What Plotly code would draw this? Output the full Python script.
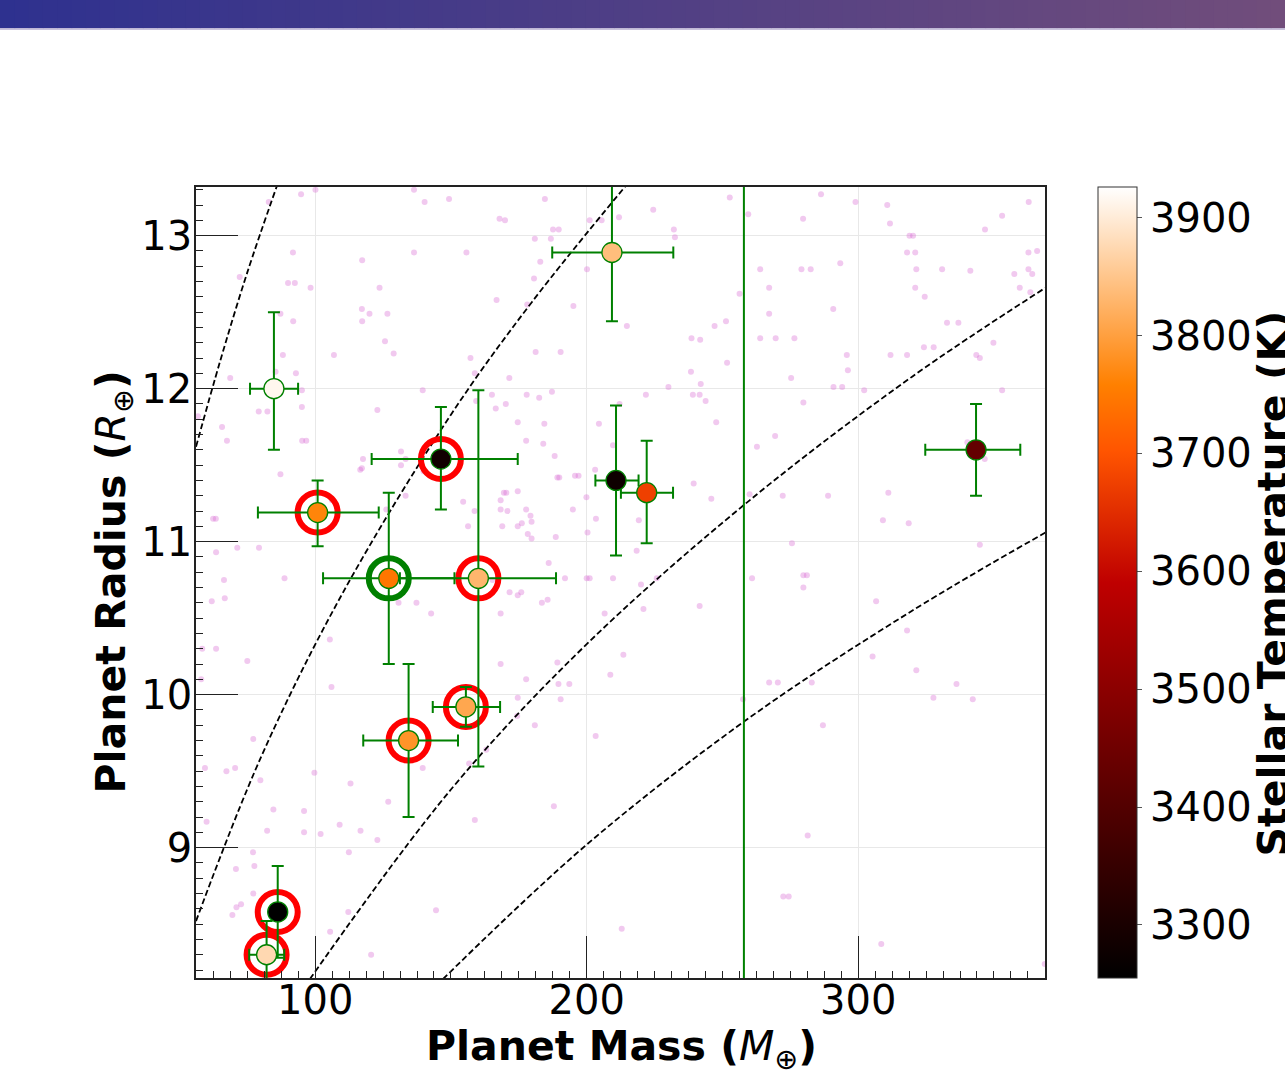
import plotly.graph_objects as go

# ---------------- highlighted planets ----------------
mass = [84.8, 146.3, 100.9, 127.1, 160.1, 134.4, 155.5, 210.8, 222.1, 209.3, 343.4, 86.2, 82.1]
radius = [12.00, 11.54, 11.19, 10.76, 10.76, 9.70, 9.92, 11.40, 11.32, 12.89, 11.60, 8.58, 8.30]
mass_err_lo = [8.8, 25.5, 22.0, 24.2, 28.9, 16.7, 12.2, 7.6, 9.5, 22.0, 18.7, 1.8, 6.4]
mass_err_hi = [8.9, 28.3, 22.5, 24.2, 28.6, 18.2, 12.6, 8.3, 9.7, 22.6, 16.3, 1.8, 6.5]
radius_err_lo = [0.40, 0.33, 0.22, 0.56, 1.23, 0.50, 0.13, 0.49, 0.33, 0.45, 0.30, 0.30, 0.22]
radius_err_hi = [0.50, 0.34, 0.21, 0.56, 1.23, 0.50, 0.13, 0.49, 0.34, 0.45, 0.30, 0.30, 0.22]
stellar_temp = [3915, 3285, 3765, 3745, 3830, 3785, 3810, 3280, 3675, 3840, 3430, 3255, 3875]
ring_color = ["none", "red", "red", "green", "red", "red", "red",
              "none", "none", "none", "none", "red", "red"]

temp_min, temp_max = 3255, 3926
cbar_ticks = [3300, 3400, 3500, 3600, 3700, 3800, 3900]

# ---------------- background population ----------------
bg_mass = [
    100.1, 94.8, 82.9, 136.4, 140.3, 149.3, 91.8, 117.3, 136.4, 155.7, 72.2, 90.0, 92.5, 98.3, 123.7, 117.2, 120.0, 126.6, 87.2, 91.9,
    117.3, 125.7, 128.9, 88.1, 106.9, 157.2, 68.7, 85.4, 92.9, 158.8, 139.6, 95.1, 165.1, 79.2, 82.4, 95.1, 122.9, 56.8, 65.7, 166.8, 166.5,
    67.5, 95.2, 96.7, 117.6, 131.6, 117.2, 116.6, 131.6, 133.3, 87.2, 133.3, 139.9, 154.5, 158.7, 156.3, 62.4, 63.4, 106.2,
    126.2, 79.3, 71.3, 63.5, 66.4, 88.7, 61.9, 66.7, 130.7, 137.3, 142.7, 105.4, 58.4, 63.5, 75.0, 58.0, 106.0, 165.3,
    77.2, 59.4, 67.3, 70.5, 99.7, 79.8, 113.0, 139.6, 163.0, 156.7, 126.9, 84.6, 95.9, 60.0, 109.0, 82.3, 95.9, 102.0,
    116.7, 122.9, 158.8, 77.1, 112.4, 70.8, 77.6, 77.2, 72.7, 71.0, 69.5, 112.2, 144.5, 105.5, 120.6, 91.1, 212.9,
    184.6, 167.9, 169.9, 187.6, 189.7, 180.9, 186.8, 182.9, 201.1, 205.5, 211.9, 224.5, 232.1, 232.5, 252.7, 259.5,
    200.1, 180.6, 178.1, 195.1, 256.3, 214.8, 247.1, 251.3, 238.6, 241.8, 181.2, 190.4, 159.3, 171.5, 238.4, 251.7,
    177.9, 182.5, 187.2, 170.2, 174.6, 184.4, 204.5, 212.1, 221.8, 230.1, 239.1, 241.6, 243.8, 242.0, 247.7,
    286.3, 299.0, 279.7, 310.7, 311.7, 362.8, 353.0, 346.7, 318.9, 320.2, 318.0, 321.0, 362.7, 365.9, 263.9, 279.1,
    282.5, 293.4, 321.4, 330.9, 341.3, 357.5, 362.7, 364.1, 267.2, 321.0, 359.5, 363.4, 324.5, 267.2, 290.8, 332.7,
    336.9, 263.9, 269.6, 276.5, 349.8, 324.2, 327.8, 295.8, 311.9, 318.0, 343.5, 344.8, 296.2, 275.3, 290.9, 294.1,
    302.2, 279.8, 353.0, 340.2, 346.6, 288.9, 311.1, 309.1, 318.6, 344.8, 279.8, 281.1,
    177.7, 184.0, 188.2, 189.2, 189.9, 195.7, 197.0, 169.5, 170.4, 174.6, 168.3, 168.3, 170.8, 177.7, 179.3, 176.1, 174.6, 179.7,
    168.9, 178.3, 179.7, 188.6, 194.9, 199.9, 203.4, 200.3, 209.7, 203.1, 219.2, 218.4, 239.4, 245.9, 262.7, 269.4, 260.0, 272.2,
    275.6, 186.0, 192.0, 200.0, 201.1, 209.7, 220.0, 225.8, 171.6, 174.6, 175.9, 183.5, 185.6, 168.3, 206.6, 220.9, 241.6, 260.9,
    279.8, 213.5, 168.3, 189.2, 208.7, 177.7, 189.6, 193.6, 174.6, 190.4, 174.4, 180.9, 203.3, 257.6, 267.2, 270.4, 187.9, 281.4,
    272.4, 274.4,
    306.6, 318.0, 305.3, 321.4, 282.9, 336.2, 327.7, 342.2, 287.0, 308.5, 368.7,
]
bg_radius = [
    13.30, 13.27, 13.22, 13.30, 13.22, 13.24, 12.89, 12.84, 12.89, 12.89, 12.73, 12.69, 12.69, 12.66, 12.66, 12.52, 12.49, 12.49, 12.49, 12.44,
    12.44, 12.31, 12.23, 12.22, 12.22, 12.20, 12.07, 12.11, 12.10, 12.10, 11.99, 11.99, 11.96, 11.85, 11.85, 11.88, 11.86, 11.82, 11.75, 12.58, 11.87,
    11.66, 11.66, 11.66, 11.54, 11.59, 11.48, 11.47, 11.50, 11.54, 11.44, 11.30, 11.46, 11.26, 11.20, 11.10, 11.15, 11.15, 11.27,
    11.21, 10.96, 10.96, 10.93, 10.75, 10.76, 10.61, 10.63, 10.60, 10.60, 10.53, 10.36, 10.30, 10.30, 10.22, 10.10, 10.05, 10.75,
    9.71, 9.52, 9.50, 9.52, 9.49, 9.44, 9.42, 9.52, 9.64, 9.55, 9.30, 9.25, 9.24, 9.17, 9.15, 9.11, 9.10, 9.09,
    9.11, 9.05, 9.18, 8.97, 8.97, 8.86, 8.88, 8.70, 8.63, 8.61, 8.56, 8.58, 8.59, 8.45, 8.30, 8.48, 8.47,
    13.24, 13.11, 13.10, 13.04, 13.04, 12.98, 12.98, 12.83, 13.10, 13.10, 13.12, 13.17, 13.04, 12.99, 13.25, 13.14,
    12.78, 12.72, 12.55, 12.54, 12.62, 12.41, 12.41, 12.44, 12.33, 12.32, 12.24, 12.24, 11.92, 12.07, 12.11, 12.17,
    11.96, 11.94, 11.98, 11.90, 11.78, 11.77, 11.77, 11.90, 11.96, 12.01, 11.96, 11.96, 11.92, 12.03, 11.78,
    13.27, 13.22, 13.11, 13.20, 13.08, 13.22, 13.13, 13.04, 13.00, 13.00, 12.89, 12.89, 12.89, 12.90, 12.78, 12.78,
    12.78, 12.82, 12.78, 12.78, 12.77, 12.75, 12.78, 12.75, 12.66, 12.66, 12.66, 12.63, 12.60, 12.49, 12.52, 12.43,
    12.43, 12.33, 12.33, 12.33, 12.30, 12.27, 12.27, 12.22, 12.22, 12.22, 12.22, 12.20, 12.12, 12.07, 12.01, 12.01,
    11.99, 11.91, 11.99, 11.65, 11.54, 11.30, 11.32, 11.14, 11.12, 10.98, 10.78, 10.78,
    11.66, 11.64, 11.56, 11.42, 11.42, 11.43, 11.43, 11.32, 11.32, 11.33, 11.27, 11.21, 11.20, 11.21, 11.17, 11.12, 11.10, 11.13,
    11.10, 11.05, 11.02, 11.03, 11.21, 11.29, 11.15, 11.06, 11.63, 11.47, 11.14, 10.94, 11.38, 11.28, 11.62, 11.69, 11.31, 11.30,
    10.99, 10.86, 10.76, 10.76, 10.76, 10.76, 10.72, 10.76, 10.67, 10.65, 10.67, 10.60, 10.62, 10.53, 10.53, 10.56, 10.58, 10.76,
    10.70, 10.26, 10.20, 10.21, 10.13, 10.10, 10.07, 10.07, 9.98, 9.97, 9.86, 9.80, 9.73, 9.97, 10.08, 10.08, 9.27, 9.08,
    8.68, 8.68,
    10.61, 10.42, 10.25, 10.16, 10.08, 10.07, 9.98, 9.97, 9.80, 8.37, 8.24,
]
assert len(bg_mass) == len(bg_radius)

# ---------------- iso-density guide curves ----------------
curve_a_mass = [56.1, 65.0, 75.0, 86.0]
curve_a_radius = [11.62, 12.18, 12.76, 13.33]
curve_b_mass = [56.1, 80.0, 110.0, 150.0, 180.0, 216.0]
curve_b_radius = [8.52, 9.59, 10.66, 11.83, 12.57, 13.36]
curve_c_mass = [98.0, 150.0, 200.0, 260.0, 320.0, 369.0]
curve_c_radius = [8.14, 9.38, 10.33, 11.27, 12.08, 12.66]
curve_d_mass = [147.0, 200.0, 260.0, 320.0, 369.0]
curve_d_radius = [8.14, 9.02, 9.85, 10.55, 11.06]

vline_mass = 257.9

x_range = [56.1, 368.8]
y_range = [8.148, 13.318]
x_ticks = [100, 200, 300]
y_ticks = [9, 10, 11, 12, 13]

# matplotlib gist_heat colormap
gist_heat = [
    [0.0, "rgb(0,0,0)"],
    [0.5, "rgb(191,0,0)"],
    [2 / 3, "rgb(255,85,0)"],
    [0.75, "rgb(255,128,0)"],
    [1.0, "rgb(255,255,255)"],
]

FONT = "DejaVu Sans"
GREEN = "#008000"
W = 849.0      # plot width in px
H = 790.6      # plot height in px
BOTTOM = 978.3  # plot bottom in px from top

fig = go.Figure()

# background population
fig.add_trace(go.Scatter(
    x=bg_mass, y=bg_radius, mode="markers",
    marker=dict(size=6, color="rgba(218,112,214,0.38)", line=dict(width=0)),
    hoverinfo="skip",
))

# dashed iso-density curves
for cx, cy in [(curve_a_mass, curve_a_radius), (curve_b_mass, curve_b_radius),
               (curve_c_mass, curve_c_radius), (curve_d_mass, curve_d_radius)]:
    fig.add_trace(go.Scatter(
        x=cx, y=cy, mode="lines",
        line=dict(color="black", width=1.8, dash="6px,3px", shape="spline", smoothing=1.0),
        hoverinfo="skip",
    ))

# rings
ring_idx = [i for i, c in enumerate(ring_color) if c != "none"]
fig.add_trace(go.Scatter(
    x=[mass[i] for i in ring_idx], y=[radius[i] for i in ring_idx], mode="markers",
    marker=dict(size=40, color="rgba(0,0,0,0)",
                line=dict(width=6, color=[ring_color[i] for i in ring_idx])),
    hoverinfo="skip",
))

# main planets with error bars
fig.add_trace(go.Scatter(
    x=mass, y=radius, mode="markers",
    error_x=dict(type="data", symmetric=False, array=mass_err_hi, arrayminus=mass_err_lo,
                 color=GREEN, thickness=2, width=6),
    error_y=dict(type="data", symmetric=False, array=radius_err_hi, arrayminus=radius_err_lo,
                 color=GREEN, thickness=2, width=6),
    marker=dict(size=20, color=stellar_temp, colorscale=gist_heat, cmin=temp_min, cmax=temp_max,
                line=dict(width=1.3, color=GREEN),
                colorbar=dict(
                    x=(1098 - 196) / W, xanchor="left", xpad=0,
                    y=0.5, yanchor="middle", ypad=0, len=1, lenmode="fraction",
                    thickness=39, outlinewidth=1, outlinecolor="#333",
                    tickvals=cbar_ticks, ticks="outside", ticklen=5, tickcolor="#555",
                    tickfont=dict(family=FONT, size=40, color="black"),
                )),
    hoverinfo="skip",
))

# vertical reference line
fig.add_shape(type="line", x0=vline_mass, x1=vline_mass, y0=0, y1=1, xref="x", yref="paper",
              line=dict(color=GREEN, width=2))

# top gradient banner
left_rgb = (46, 49, 143)
right_rgb = (113, 77, 123)
n_slices = 90
for k in range(n_slices):
    f = (k + 0.5) / n_slices
    col = tuple(int(round(left_rgb[j] + (right_rgb[j] - left_rgb[j]) * f)) for j in range(3))
    x0 = (k * 1285 / n_slices - 196) / W
    x1 = ((k + 1) * 1285 / n_slices - 196 + 1) / W
    fig.add_shape(type="rect", xref="paper", yref="paper",
                  x0=x0, x1=x1, y0=(BOTTOM - 29) / H, y1=(BOTTOM + 2) / H,
                  line=dict(width=0), fillcolor="rgb(%d,%d,%d)" % col, layer="above")
fig.add_shape(type="rect", xref="paper", yref="paper",
              x0=-196 / W, x1=(1285 - 196) / W,
              y0=(BOTTOM - 30.5) / H, y1=(BOTTOM - 29) / H,
              line=dict(width=0), fillcolor="#b7aed0", layer="above")

axis_common = dict(
    showgrid=True, gridcolor="#e8e8e8", gridwidth=1,
    showline=True, linecolor="#222", linewidth=1.5, mirror=True,
    ticks="inside", ticklen=42, tickwidth=1.2, tickcolor="#222",
    tickfont=dict(family=FONT, size=40, color="black"),
    zeroline=False,
)
fig.update_xaxes(range=x_range, tickvals=x_ticks, ticklabelstandoff=-14,
                 minor=dict(ticks="inside", ticklen=7, tickwidth=1, tickcolor="#222",
                            dtick=6.25, tick0=0, showgrid=False),
                 **axis_common)
fig.update_yaxes(range=y_range, tickvals=y_ticks, ticklabelstandoff=-6,
                 minor=dict(ticks="inside", ticklen=7, tickwidth=1, tickcolor="#222",
                            dtick=0.1, tick0=0, showgrid=False),
                 **axis_common)

# axis titles as annotations
fig.add_annotation(text="<b>Planet Mass (</b><i>M</i><sub>⊕</sub><b>)</b>",
                   xref="paper", yref="paper", x=(621 - 196) / W, y=(BOTTOM - 1049) / H,
                   xanchor="center", yanchor="middle", showarrow=False,
                   font=dict(family=FONT, size=41, color="black"))
fig.add_annotation(text="<b>Planet Radius (</b><i>R</i><sub>⊕</sub><b>)</b>",
                   xref="paper", yref="paper", x=(113 - 196) / W, y=(BOTTOM - 583) / H,
                   xanchor="center", yanchor="middle", textangle=-90, showarrow=False,
                   font=dict(family=FONT, size=41, color="black"))
fig.add_annotation(text="<b>Stellar Temperature (K)</b>",
                   xref="paper", yref="paper", x=(1273 - 196) / W, y=(BOTTOM - 584) / H,
                   xanchor="center", yanchor="middle", textangle=-90, showarrow=False,
                   font=dict(family=FONT, size=41, color="black"))

fig.update_layout(
    width=1285, height=1073,
    margin=dict(l=196, r=240, t=187, b=95, autoexpand=False),
    plot_bgcolor="white", paper_bgcolor="white",
    showlegend=False,
    font=dict(family=FONT, size=40, color="black"),
)

fig.write_html("out.html",
               config={"displayModeBar": False},
               post_script="document.body.style.margin='0';document.body.style.overflow='hidden';")
